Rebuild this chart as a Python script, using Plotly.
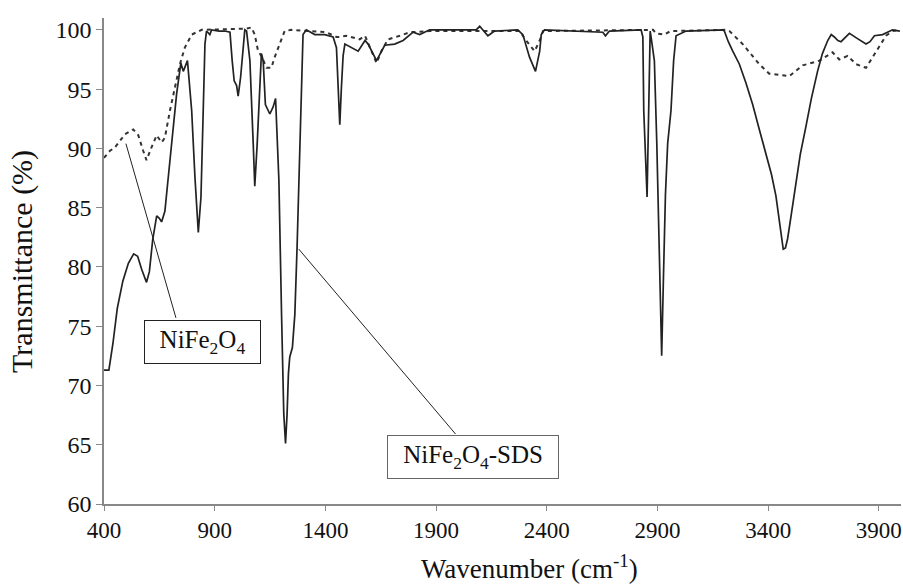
import plotly.graph_objects as go

# NiFe2O4-SDS (solid)
wn_sds = [400, 422, 440, 460, 485, 510, 534, 552, 570, 592, 605, 620, 638, 650, 660, 675, 690, 705, 728,
          747, 758, 777, 796, 811, 826, 838, 848, 856, 863, 878, 886, 920, 946, 969, 979, 988, 999, 1006,
          1017, 1028, 1036, 1044, 1059, 1074, 1081, 1092, 1104, 1111, 1119, 1129, 1149, 1164, 1175, 1184,
          1190, 1202, 1212, 1220, 1227, 1233, 1239, 1251, 1262, 1272, 1281, 1292, 1299, 1314, 1352, 1397,
          1435, 1450, 1458, 1465, 1472, 1480, 1488, 1548, 1579, 1593, 1631, 1668, 1713, 1751, 1796, 1826,
          1871, 2081, 2097, 2134, 2164, 2269, 2292, 2322, 2349, 2368, 2375, 2390, 2653, 2665, 2683, 2826,
          2834, 2838, 2853, 2861, 2867, 2871, 2886, 2897, 2909, 2919, 2927, 2936, 2946, 2961, 2973, 2984,
          3029, 3195, 3202, 3220, 3240, 3270, 3300, 3330, 3360, 3390, 3415, 3435, 3450, 3460, 3468, 3478,
          3488, 3505, 3525, 3545, 3570, 3595, 3623, 3645, 3669, 3685, 3699, 3715, 3729, 3767, 3800, 3842,
          3860, 3880, 3917, 3962, 3995]
tr_sds = [71.3, 71.3, 73.5, 76.5, 78.8, 80.3, 81.1, 80.9, 79.8, 78.7, 79.6, 82.3, 84.3, 84.1, 83.8, 84.7, 87.5, 90.4, 94.6,
          97.2, 96.5, 97.4, 93.2, 87.5, 82.9, 85.9, 93.2, 98.8, 99.9, 99.6, 100.0, 99.9, 99.9, 99.8, 97.4, 95.7, 95.3, 94.4,
          96.0, 98.8, 100.0, 99.9, 97.4, 90.4, 86.8, 90.4, 96.0, 98.0, 97.4, 93.7, 92.9, 93.5, 94.2, 90.4,
          87.3, 76.0, 67.6, 65.1, 67.6, 71.0, 72.4, 73.2, 76.0, 81.6, 88.4, 95.4, 99.6, 100.0, 99.6, 99.6,
          99.4, 98.5, 95.0, 92.0, 95.0, 97.8, 98.8, 98.2, 99.1, 98.8, 97.4, 98.7, 98.8, 99.1, 99.8, 99.6,
          100.0, 100.0, 100.3, 99.5, 99.9, 100.0, 99.6, 97.7, 96.5, 98.2, 99.6, 100.0, 99.8, 99.5, 99.9, 100.0,
          99.4, 93.2, 85.9, 93.2, 99.9, 99.4, 97.4, 90.4, 79.1, 72.5, 79.1, 86.1, 90.4, 93.2, 97.4, 99.5,
          99.9, 100.0, 99.9, 99.0, 98.2, 97.1, 95.5, 93.7, 91.6, 89.5, 87.8, 86.0, 84.0, 82.3, 81.5, 81.6,
          82.4, 84.5, 87.0, 89.5, 91.8, 94.2, 96.5, 98.0, 99.1, 99.6, 99.4, 99.1, 99.0, 99.7, 99.3, 98.8,
          99.0, 99.5, 99.6, 100.0, 99.9]

# NiFe2O4 (dotted)
wn_nf = [400, 427, 450, 495, 532, 555, 577, 592, 615, 638, 660, 675, 698, 720, 743, 765, 796, 841, 1040,
         1066, 1081, 1096, 1111, 1134, 1156, 1171, 1194, 1216, 1246, 1404, 1450, 1465, 1495, 1555, 1579,
         1608, 1631, 1653, 1683, 1736, 1781, 1871, 2277, 2307, 2345, 2368, 2383, 2880, 2894, 2930, 2960,
         3210, 3225, 3285, 3360, 3405, 3496, 3556, 3631, 3691, 3721, 3759, 3797, 3842, 3887, 3932, 3962, 3995]
tr_nf = [89.2, 89.8, 90.1, 91.2, 91.6, 91.1, 89.8, 89.0, 90.1, 91.1, 90.5, 90.9, 93.2, 95.1, 97.1, 98.5, 99.6, 100.0, 100.1,
         100.2, 99.6, 98.2, 97.8, 96.8, 96.8, 97.7, 98.8, 99.9, 100.0, 99.8, 99.4, 99.4, 99.5, 99.2, 99.5,
         98.2, 97.2, 98.2, 99.2, 99.5, 99.8, 99.9, 99.9, 99.1, 98.2, 99.1, 99.9, 100.0, 99.7, 99.6, 99.9,
         100.0, 99.9, 98.8, 97.1, 96.3, 96.1, 97.0, 97.4, 98.1, 97.5, 97.8, 97.1, 96.8, 98.2, 99.5, 99.9, 100.0]

x_ticks = [400, 900, 1400, 1900, 2400, 2900, 3400, 3900]
y_ticks = [60, 65, 70, 75, 80, 85, 90, 95, 100]

label_nf = "NiFe<sub>2</sub>O<sub>4</sub>"
label_sds = "NiFe<sub>2</sub>O<sub>4</sub>-SDS"
label_nf_pos = (847, 73.7)
label_sds_pos = (2065, 64.0)
leader_nf = ((499, 90.4), (725, 75.7))
leader_sds = ((1280, 81.5), (1988, 65.9))
x_title = "Wavenumber (cm<sup>-1</sup>)"
y_title = "Transmittance (%)"

FONT = "Liberation Serif, Times New Roman, serif"

fig = go.Figure()
fig.add_trace(go.Scatter(x=wn_nf, y=tr_nf, mode="lines", name="NiFe2O4",
                         line=dict(color="#333333", width=2, dash="4px,4px")))
fig.add_trace(go.Scatter(x=wn_sds, y=tr_sds, mode="lines", name="NiFe2O4-SDS",
                         line=dict(color="#222222", width=1.7)))

for (p0, p1) in (leader_nf, leader_sds):
    fig.add_shape(type="line", xref="x", yref="y", x0=p0[0], y0=p0[1], x1=p1[0], y1=p1[1],
                  line=dict(color="#222222", width=1))

fig.add_annotation(x=label_nf_pos[0], y=label_nf_pos[1], xref="x", yref="y", text=label_nf,
                   showarrow=False, font=dict(family=FONT, size=25, color="#111"),
                   bordercolor="#222", borderwidth=1, borderpad=0, bgcolor="white",
                   width=115, height=42)
fig.add_annotation(x=label_sds_pos[0], y=label_sds_pos[1], xref="x", yref="y", text=label_sds,
                   showarrow=False, font=dict(family=FONT, size=25, color="#111"),
                   bordercolor="#666", borderwidth=1, borderpad=0, bgcolor="white",
                   width=170, height=42)

# axis titles
fig.add_annotation(x=0.5345, y=-0.13, xref="paper", yref="paper", text=x_title, showarrow=False,
                   xanchor="center", yanchor="middle", font=dict(family=FONT, size=27, color="#111"))
fig.add_annotation(x=-0.103, y=0.5, xref="paper", yref="paper", text=y_title, showarrow=False,
                   textangle=-90, xanchor="center", yanchor="middle",
                   font=dict(family=FONT, size=30, color="#111"))

fig.update_layout(
    width=903, height=587,
    margin=dict(l=104, r=2, t=18, b=83),
    paper_bgcolor="white", plot_bgcolor="white",
    showlegend=False,
    font=dict(family=FONT, color="#111"),
    xaxis=dict(range=[400, 4000], tickvals=x_ticks, ticktext=[str(v) for v in x_ticks],
               showline=True, linecolor="#888", linewidth=1.5, ticks="outside", ticklen=5,
               tickcolor="#888", showgrid=False, zeroline=False,
               tickfont=dict(family=FONT, size=23, color="#111")),
    yaxis=dict(range=[60, 101], tickvals=y_ticks, ticktext=[str(v) for v in y_ticks],
               showline=True, linecolor="#888", linewidth=1.5, ticks="outside", ticklen=6,
               tickcolor="#888", showgrid=False, zeroline=False,
               tickfont=dict(family=FONT, size=24, color="#111")),
)

fig.write_html("out.html")
